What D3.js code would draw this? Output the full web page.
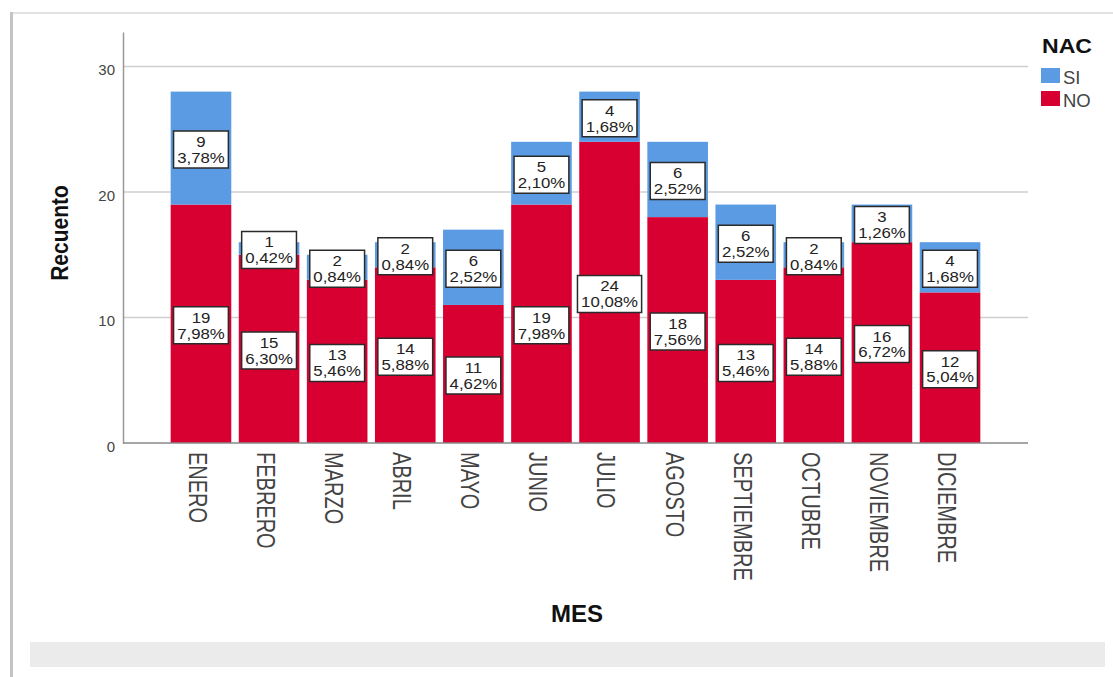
<!DOCTYPE html>
<html>
<head>
<meta charset="utf-8">
<script src="https://cdn.jsdelivr.net/npm/d3@7"></script>
<style>
body { margin: 0; background: #fff; }
svg { display: block; font-family: "Liberation Sans", Arial, sans-serif; }
</style>
</head>
<body>
<svg width="1113" height="677"></svg>
<script>
var meses = ["ENERO", "FEBRERO", "MARZO", "ABRIL", "MAYO", "JUNIO", "JULIO", "AGOSTO", "SEPTIEMBRE", "OCTUBRE", "NOVIEMBRE", "DICIEMBRE"];
var noValues = [19, 15, 13, 14, 11, 19, 24, 18, 13, 14, 16, 12];
var siValues = [9, 1, 2, 2, 6, 5, 4, 6, 6, 2, 3, 4];
var yTicks = [0, 10, 20, 30];
var legendKeys = ["SI", "NO"];
var colors = { SI: "#5a9be4", NO: "#d80030" };

var svg = d3.select("svg");
var total = d3.sum(noValues) + d3.sum(siValues);

var rows = meses.map(function (m, i) {
	return { mes: m, NO: noValues[i], SI: siValues[i] };
});
var stacked = d3.stack().keys(["NO", "SI"])(rows);

var x = d3.scaleBand().domain(meses).range([123, 1028]).paddingInner(0.11).paddingOuter(0.7);
var y = d3.scaleLinear().domain([0, 32.75]).range([443, 32]);

// frame
svg.append("rect").attr("x", 30).attr("y", 642).attr("width", 1075).attr("height", 25).attr("fill", "#ebebeb");
svg.append("line").attr("x1", 11).attr("x2", 1113).attr("y1", 13).attr("y2", 13)
	.attr("stroke", "#e2e2e2").attr("stroke-width", 2);
svg.append("line").attr("x1", 11.5).attr("x2", 11.5).attr("y1", 12).attr("y2", 677)
	.attr("stroke", "#c4c4c4").attr("stroke-width", 3);

// gridlines
svg.append("g").selectAll("line")
	.data(yTicks.filter(function (d) { return d > 0; }))
	.enter().append("line")
	.attr("x1", 123).attr("x2", 1028)
	.attr("y1", function (d) { return y(d); })
	.attr("y2", function (d) { return y(d); })
	.attr("stroke", "#cfcfcf").attr("stroke-width", 1.5);

// y axis
var yAxis = svg.append("g").attr("transform", "translate(123,0)")
	.call(d3.axisLeft(y).tickValues(yTicks).tickSize(0).tickPadding(8));
yAxis.select(".domain").attr("stroke", "#999").attr("stroke-width", 1.5);
yAxis.selectAll("text").attr("font-size", 15).attr("fill", "#444")
	.attr("font-family", "Liberation Sans, Arial, sans-serif").attr("dy", "0.55em");

// bars
var layer = svg.append("g").selectAll("g")
	.data(stacked)
	.enter().append("g")
	.attr("fill", function (d) { return colors[d.key]; });

layer.selectAll("rect")
	.data(function (d) { return d; })
	.enter().append("rect")
	.attr("x", function (d) { return x(d.data.mes); })
	.attr("y", function (d) { return y(d[1]); })
	.attr("width", x.bandwidth())
	.attr("height", function (d) { return y(d[0]) - y(d[1]); });

// x axis
var xAxis = svg.append("g").attr("transform", "translate(0," + y(0) + ")")
	.call(d3.axisBottom(x).tickSize(0).tickFormat(""));
xAxis.select(".domain").attr("d", "M123,0H1028").attr("stroke", "#888").attr("stroke-width", 1.5);

svg.append("g").selectAll("text")
	.data(meses)
	.enter().append("text")
	.attr("transform", function (d) {
		return "translate(" + (x(d) + x.bandwidth() / 2 - 3) + "," + (y(0) + 9) + ") rotate(90) scale(1,1.3)";
	})
	.attr("dy", "0.35em")
	.attr("font-size", 20)
	.attr("fill", "#444")
	.text(function (d) { return d; });

// value labels
var fmt = d3.format(".2f");
var labels = [];
stacked.forEach(function (s) {
	s.forEach(function (d, i) {
		var v = d[1] - d[0];
		labels.push({
			cx: x(d.data.mes) + x.bandwidth() / 2,
			cy: (y(d[0]) + y(d[1])) / 2 + 1.5,
			count: v,
			pct: fmt(v / total * 100).replace(".", ",") + "%"
		});
	});
});

var lab = svg.append("g").selectAll("g")
	.data(labels)
	.enter().append("g")
	.attr("transform", function (d) { return "translate(" + d.cx + "," + d.cy + ") scale(1.2,1)"; });

var box = lab.append("rect")
	.attr("fill", "#fff")
	.attr("stroke", "#2a2a2a")
	.attr("stroke-width", 1.5)
	.attr("vector-effect", "non-scaling-stroke");

lab.append("text").attr("class", "l1")
	.attr("text-anchor", "middle").attr("y", -2.5)
	.attr("font-size", 14).attr("fill", "#222")
	.text(function (d) { return d.count; });
lab.append("text").attr("class", "l2")
	.attr("text-anchor", "middle").attr("y", 13.3)
	.attr("font-size", 14).attr("fill", "#222")
	.text(function (d) { return d.pct; });

box.each(function () {
	var g = d3.select(this.parentNode);
	var w = Math.max(g.select(".l1").node().getComputedTextLength(), g.select(".l2").node().getComputedTextLength()) + 6;
	d3.select(this).attr("x", -w / 2).attr("width", w).attr("y", -18.5).attr("height", 37);
});

// axis titles
svg.append("text")
	.attr("transform", "translate(68,233) rotate(-90) scale(1,1.15)")
	.attr("text-anchor", "middle")
	.attr("font-size", 21).attr("font-weight", "bold").attr("fill", "#111")
	.text("Recuento");

svg.append("text")
	.attr("x", 577).attr("y", 622)
	.attr("text-anchor", "middle")
	.attr("font-size", 24).attr("font-weight", "bold").attr("fill", "#111")
	.text("MES");

// legend
var legend = svg.append("g");
legend.append("text")
	.attr("x", 1042).attr("y", 53)
	.attr("font-size", 21).attr("font-weight", "bold").attr("fill", "#111")
	.attr("transform", "translate(1042,0) scale(1.1,1) translate(-1042,0)")
	.text("NAC");

var item = legend.selectAll(".item")
	.data(legendKeys)
	.enter().append("g")
	.attr("class", "item")
	.attr("transform", function (d, i) { return "translate(1041," + (68 + i * 23) + ")"; });
item.append("rect")
	.attr("width", 19).attr("height", 15)
	.attr("fill", function (d) { return colors[d]; });
item.append("text")
	.attr("x", 22).attr("y", 15.5)
	.attr("font-size", 18.5).attr("fill", "#444")
	.text(function (d) { return d; });
</script>
</body>
</html>
